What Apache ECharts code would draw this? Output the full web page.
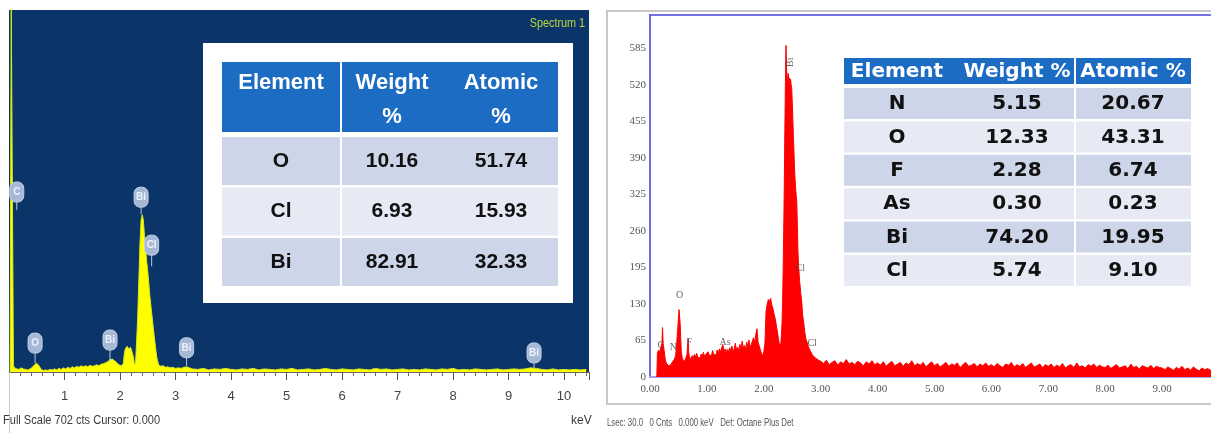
<!DOCTYPE html>
<html>
<head>
<meta charset="utf-8">
<script src="https://cdn.jsdelivr.net/npm/echarts@6/dist/echarts.min.js"></script>
<style>
  html, body { margin: 0; padding: 0; background: #ffffff; }
  #chart { width: 1211px; height: 433px; }
</style>
</head>
<body>
<div id="chart"></div>
<script>
// ---------- Spectrum 1 (left panel): [energy keV, counts] ----------
const leftLowE = [
  [0.02, 0], [0.04, 720], [0.06, 720], [0.08, 12], [0.10, 8], [0.14, 6], [0.18, 5], [0.22, 8],
  [0.26, 6], [0.30, 5], [0.34, 4], [0.38, 6], [0.42, 9], [0.46, 14], [0.50, 17], [0.54, 12],
  [0.58, 5], [0.62, 3], [0.66, 4], [0.70, 3], [0.74, 5], [0.78, 4], [0.82, 6], [0.86, 4],
  [0.90, 7], [0.94, 5], [0.98, 8], [1.02, 6], [1.06, 9], [1.10, 7], [1.14, 10], [1.18, 8],
  [1.22, 11], [1.26, 9], [1.30, 12], [1.34, 10], [1.38, 12], [1.42, 10], [1.46, 13], [1.50, 11],
  [1.54, 12], [1.58, 14], [1.62, 12], [1.66, 15], [1.70, 16], [1.74, 18], [1.78, 20], [1.82, 24],
  [1.86, 25], [1.90, 22], [1.94, 18], [1.98, 14], [2.02, 12], [2.06, 16]
];
const leftPeakE = [
  [2.08, 38], [2.10, 46], [2.13, 50], [2.16, 44], [2.19, 48], [2.22, 47], [2.24, 30], [2.26, 14],
  [2.28, 18], [2.30, 60], [2.32, 110], [2.34, 180], [2.36, 250], [2.38, 295], [2.40, 305],
  [2.42, 295], [2.44, 265], [2.46, 240], [2.48, 215], [2.50, 195], [2.52, 170], [2.54, 145],
  [2.56, 125], [2.58, 105], [2.60, 85], [2.62, 66], [2.64, 48], [2.66, 30], [2.68, 20], [2.70, 13],
  [2.74, 11], [2.78, 12], [2.82, 9], [2.86, 10], [2.90, 8], [2.95, 9], [3.00, 7], [3.05, 8],
  [3.10, 7], [3.15, 9], [3.20, 10], [3.25, 8]
];
const leftBackground = [
  [3.3, 6], [3.4, 5], [3.5, 7], [3.6, 4], [3.7, 6], [3.8, 5], [3.9, 7], [4.0, 5], [4.1, 4], [4.2, 6],
  [4.3, 5], [4.4, 7], [4.5, 4], [4.6, 6], [4.7, 5], [4.8, 4], [4.9, 6], [5.0, 5], [5.1, 7], [5.2, 4],
  [5.3, 5], [5.4, 6], [5.5, 4], [5.6, 5], [5.7, 7], [5.8, 5], [5.9, 4], [6.0, 6], [6.1, 5], [6.2, 4],
  [6.3, 6], [6.4, 5], [6.5, 4], [6.6, 7], [6.7, 5], [6.8, 6], [6.9, 4], [7.0, 5], [7.1, 6], [7.2, 4],
  [7.3, 5], [7.4, 4], [7.5, 6], [7.6, 5], [7.7, 4], [7.8, 6], [7.9, 5], [8.0, 7], [8.1, 4], [8.2, 5],
  [8.3, 4], [8.4, 6], [8.5, 5], [8.6, 4], [8.7, 5], [8.8, 6], [8.9, 4], [9.0, 5], [9.1, 6], [9.2, 5],
  [9.3, 6], [9.4, 8], [9.5, 7], [9.6, 5], [9.7, 4], [9.8, 6], [9.9, 4], [10.0, 5], [10.1, 4], [10.2, 5],
  [10.3, 4], [10.4, 5]
];
// Peak markers: element, energy, counts at bubble centre, counts at stem foot
const leftPeakLabels = [
  { el: 'C',  e: 0.14, top: 349, foot: 314 },
  { el: 'O',  e: 0.47, top: 56,  foot: 17 },
  { el: 'Bi', e: 1.82, top: 62,  foot: 20 },
  { el: 'Bi', e: 2.38, top: 339, foot: 306 },
  { el: 'Cl', e: 2.57, top: 246, foot: 205 },
  { el: 'Bi', e: 3.20, top: 47,  foot: 12 },
  { el: 'Bi', e: 9.46, top: 37,  foot: 8 }
];
const leftTicks = [1, 2, 3, 4, 5, 6, 7, 8, 9, 10];

// ---------- Right panel spectrum: [energy keV, counts] ----------
const rightLowE = [
  [0.12, 0], [0.13, 42], [0.15, 48], [0.17, 44], [0.19, 52], [0.21, 60], [0.22, 88], [0.23, 60],
  [0.25, 46], [0.27, 30], [0.29, 24], [0.31, 22], [0.33, 20], [0.35, 23], [0.37, 22], [0.39, 26],
  [0.41, 28], [0.43, 32], [0.45, 38], [0.47, 60], [0.49, 90], [0.51, 120], [0.53, 95], [0.55, 45],
  [0.57, 32], [0.59, 30], [0.61, 28], [0.63, 34], [0.65, 40], [0.67, 68], [0.68, 45], [0.70, 30],
  [0.72, 34], [0.74, 38], [0.76, 33], [0.78, 40], [0.80, 36], [0.82, 42], [0.84, 35], [0.86, 38],
  [0.88, 34], [0.90, 41], [0.92, 37], [0.94, 44], [0.96, 36], [0.98, 40], [1.00, 38], [1.02, 45],
  [1.04, 39], [1.06, 42], [1.08, 38], [1.10, 47], [1.12, 40], [1.14, 43], [1.16, 39], [1.18, 48],
  [1.20, 42], [1.22, 50], [1.24, 44], [1.26, 52], [1.28, 58], [1.30, 46], [1.32, 50], [1.34, 44],
  [1.36, 49], [1.38, 45], [1.40, 52], [1.42, 47], [1.44, 55], [1.46, 46], [1.48, 50], [1.50, 60],
  [1.52, 48], [1.54, 53], [1.56, 47], [1.58, 58], [1.60, 50], [1.62, 64], [1.64, 52], [1.66, 56],
  [1.68, 49], [1.70, 62], [1.72, 53], [1.74, 66], [1.76, 52], [1.78, 58], [1.80, 55], [1.82, 70],
  [1.84, 60], [1.86, 76], [1.88, 86], [1.90, 62], [1.92, 55], [1.94, 48], [1.96, 42], [1.98, 38],
  [2.00, 45]
];
const rightPeakE = [
  [2.02, 60], [2.04, 118], [2.06, 130], [2.08, 138], [2.10, 134], [2.12, 140], [2.14, 128],
  [2.16, 122], [2.18, 112], [2.20, 104], [2.22, 92], [2.24, 80], [2.26, 66], [2.28, 55],
  [2.30, 60], [2.31, 75], [2.32, 95], [2.33, 130], [2.34, 190], [2.35, 260], [2.36, 340],
  [2.37, 440], [2.38, 525], [2.39, 590], [2.40, 548], [2.41, 535], [2.42, 530], [2.43, 540],
  [2.44, 528], [2.45, 532], [2.46, 524], [2.47, 530], [2.48, 520], [2.49, 515], [2.50, 490],
  [2.51, 460], [2.52, 430], [2.53, 400], [2.54, 372], [2.55, 350], [2.56, 335], [2.57, 322],
  [2.58, 310], [2.59, 270], [2.60, 225], [2.61, 200], [2.62, 185], [2.63, 170], [2.64, 160],
  [2.65, 148], [2.66, 140], [2.67, 130], [2.68, 112], [2.70, 98], [2.72, 80], [2.74, 68],
  [2.76, 62], [2.78, 55], [2.80, 50], [2.82, 46], [2.85, 40], [2.88, 36], [2.92, 33],
  [2.96, 30], [3.00, 28]
];
const rightBackground = [
  [3.05, 24], [3.10, 30], [3.15, 22], [3.20, 26], [3.25, 29], [3.30, 21], [3.35, 27], [3.40, 24], [3.45, 31], [3.50, 23],
  [3.55, 26], [3.60, 22], [3.65, 28], [3.70, 25], [3.75, 20], [3.80, 27], [3.85, 23], [3.90, 29], [3.95, 22], [4.00, 25],
  [4.05, 21], [4.10, 27], [4.15, 19], [4.20, 24], [4.25, 28], [4.30, 20], [4.35, 23], [4.40, 26], [4.45, 19], [4.50, 25],
  [4.55, 22], [4.60, 29], [4.65, 20], [4.70, 24], [4.75, 21], [4.80, 26], [4.85, 18], [4.90, 23], [4.95, 27], [5.00, 20],
  [5.05, 24], [5.10, 18], [5.15, 22], [5.20, 26], [5.25, 19], [5.30, 23], [5.35, 21], [5.40, 25], [5.45, 17], [5.50, 22],
  [5.55, 26], [5.60, 19], [5.65, 21], [5.70, 24], [5.75, 18], [5.80, 23], [5.85, 20], [5.90, 25], [5.95, 19], [6.00, 22],
  [6.05, 18], [6.10, 24], [6.15, 20], [6.20, 17], [6.25, 23], [6.30, 21], [6.35, 26], [6.40, 18], [6.45, 22], [6.50, 19],
  [6.55, 24], [6.60, 17], [6.65, 21], [6.70, 25], [6.75, 18], [6.80, 20], [6.85, 23], [6.90, 17], [6.95, 22], [7.00, 19],
  [7.05, 23], [7.10, 17], [7.15, 21], [7.20, 18], [7.25, 24], [7.30, 16], [7.35, 20], [7.40, 22], [7.45, 17], [7.50, 25],
  [7.55, 18], [7.60, 20], [7.65, 16], [7.70, 22], [7.75, 19], [7.80, 23], [7.85, 17], [7.90, 21], [7.95, 18], [8.00, 17],
  [8.05, 21], [8.10, 15], [8.15, 19], [8.20, 22], [8.25, 16], [8.30, 18], [8.35, 20], [8.40, 15], [8.45, 23], [8.50, 17],
  [8.55, 19], [8.60, 14], [8.65, 20], [8.70, 18], [8.75, 16], [8.80, 21], [8.85, 15], [8.90, 19], [8.95, 17], [9.00, 16],
  [9.05, 13], [9.10, 18], [9.15, 15], [9.20, 12], [9.25, 17], [9.30, 14], [9.35, 19], [9.40, 13], [9.45, 16], [9.50, 12],
  [9.55, 18], [9.60, 14], [9.65, 11], [9.70, 16], [9.75, 13], [9.80, 15], [9.85, 12], [9.90, 17], [9.95, 14], [10.00, 13]
];
// Peak identification text: element, energy, counts at text position
const rightPeakLabels = [
  { el: 'C',  e: 0.19, c: 57 },
  { el: 'N',  e: 0.41, c: 52 },
  { el: 'O',  e: 0.52, c: 145 },
  { el: 'F',  e: 0.69, c: 62 },
  { el: 'As', e: 1.32, c: 62 },
  { el: 'Bi', e: 2.46, c: 560, rotate: 90 },
  { el: 'Cl', e: 2.64, c: 194 },
  { el: 'Cl', e: 2.85, c: 60 }
];

// ---------- Composition tables ----------
const leftTableHeader = ['Element', 'Weight\n%', 'Atomic\n%'];
const leftTableRows = [
  ['O', '10.16', '51.74'],
  ['Cl', '6.93', '15.93'],
  ['Bi', '82.91', '32.33']
];
const rightTableHeader = ['Element', 'Weight %', 'Atomic %'];
const rightTableRows = [
  ['N', '5.15', '20.67'],
  ['O', '12.33', '43.31'],
  ['F', '2.28', '6.74'],
  ['As', '0.30', '0.23'],
  ['Bi', '74.20', '19.95'],
  ['Cl', '5.74', '9.10']
];

// ---------- drawing ----------
const NAVY = '#0B3569';
const HEAD_BLUE = '#1C6CC4';
const ROW_DARK = '#CDD5E9';
const ROW_LIGHT = '#E7EAF4';

const graphics = [];
function rect(x, y, w, h, fill, z) {
  graphics.push({ type: 'rect', z: z || 100, shape: { x: x, y: y, width: w, height: h }, style: { fill: fill } });
}
function text(x, y, str, font, fill, opts) {
  opts = opts || {};
  graphics.push({
    type: 'text', z: 110, x: x, y: y, scaleX: opts.scaleX || 1,
    style: { text: str, font: font, fill: fill, align: opts.align || 'center',
             verticalAlign: opts.vAlign || 'middle', lineHeight: opts.lineHeight }
  });
}

// left table inside its white card
rect(203, 43, 370, 260, '#ffffff', 99);
rect(222, 62, 336, 70, HEAD_BLUE);
const leftCenters = [281, 392, 501];
text(leftCenters[0], 83, leftTableHeader[0], 'bold 22px "Liberation Sans", Arial, sans-serif', '#ffffff');
text(leftCenters[1], 100, leftTableHeader[1], 'bold 22px "Liberation Sans", Arial, sans-serif', '#ffffff', { lineHeight: 34 });
text(leftCenters[2], 100, leftTableHeader[2], 'bold 22px "Liberation Sans", Arial, sans-serif', '#ffffff', { lineHeight: 34 });
leftTableRows.forEach(function (row, i) {
  const top = 137 + i * 50.5;
  rect(222, top, 336, 48, i % 2 === 0 ? ROW_DARK : ROW_LIGHT);
  row.forEach(function (cell, j) {
    text(leftCenters[j], top + 24, cell, 'bold 21px "Liberation Sans", Arial, sans-serif', '#111111');
  });
});
rect(340, 62, 2, 226, '#ffffff', 105);

// right table
rect(844, 58, 347, 26, HEAD_BLUE);
const rightCenters = [897, 1017, 1133];
rightTableHeader.forEach(function (h, j) {
  text(rightCenters[j], 72, h, 'bold 20px "DejaVu Sans", sans-serif', '#ffffff');
});
rightTableRows.forEach(function (row, i) {
  const top = 88 + i * 33.4;
  rect(844, top, 347, 31, i % 2 === 0 ? ROW_DARK : ROW_LIGHT);
  row.forEach(function (cell, j) {
    text(rightCenters[j], top + 16, cell, 'bold 20px "DejaVu Sans", sans-serif', '#111111');
  });
});
rect(1074, 58, 2, 229, '#ffffff', 105);

// panel captions
text(585, 24, 'Spectrum 1', '12px "Liberation Sans", Arial, sans-serif', '#BCD640', { align: 'right', scaleX: 0.9 });
text(3, 421, 'Full Scale 702 cts Cursor: 0.000', '12px "Liberation Sans", Arial, sans-serif', '#3a3a3a', { align: 'left', scaleX: 0.92 });
text(571, 421, 'keV', '12px "Liberation Sans", Arial, sans-serif', '#3a3a3a', { align: 'left' });
text(607, 423, 'Lsec: 30.0   0 Cnts   0.000 keV   Det: Octane Plus Det', '10px "Liberation Sans", Arial, sans-serif', '#555555', { align: 'left', scaleX: 0.78 });

// frames
graphics.push({ type: 'rect', z: 1, shape: { x: 607, y: 11, width: 620, height: 393 },
  style: { fill: 'none', stroke: '#C8C8C8', lineWidth: 2 } });
graphics.push({ type: 'line', z: 1, shape: { x1: 9.5, y1: 372, x2: 9.5, y2: 433 },
  style: { stroke: '#C9C9C9', lineWidth: 1 } });

const chart = echarts.init(document.getElementById('chart'), null, { renderer: 'canvas', width: 1211, height: 433 });

chart.setOption({
  animation: false,
  backgroundColor: '#ffffff',
  grid: [
    { left: 9, top: 10, width: 580, height: 362, show: true, backgroundColor: NAVY, borderWidth: 0,
      containLabel: false, outerBoundsMode: 'none' },
    { left: 650, top: 15, width: 569, height: 362, show: true, backgroundColor: '#ffffff',
      borderColor: '#7272E2', borderWidth: 2, containLabel: false, outerBoundsMode: 'none' }
  ],
  xAxis: [
    { gridIndex: 0, type: 'value', min: 0, max: 10.45, interval: 1,
      axisLine: { show: true, onZero: false, lineStyle: { color: '#6a6a6a', width: 1 } },
      axisTick: { show: true, length: 8, lineStyle: { color: '#555' } },
      minorTick: { show: true, splitNumber: 5, length: 4, lineStyle: { color: '#666' } },
      splitLine: { show: false },
      axisLabel: { color: '#444', fontSize: 13, fontFamily: '"Liberation Sans", Arial, sans-serif', margin: 18,
        formatter: function (v) { return leftTicks.indexOf(v) >= 0 ? String(v) : ''; } } },
    { gridIndex: 1, type: 'value', min: 0, max: 10, interval: 1,
      axisLine: { show: true, onZero: false, lineStyle: { color: '#A3A3EE', width: 2 } },
      axisTick: { show: false },
      splitLine: { show: false },
      axisLabel: { color: '#555', fontSize: 11, fontFamily: '"Liberation Serif", serif', margin: 7,
        formatter: function (v) { return v < 10 ? v.toFixed(2) : ''; } } }
  ],
  yAxis: [
    { gridIndex: 0, type: 'value', min: 0, max: 702, show: false, splitLine: { show: false } },
    { gridIndex: 1, type: 'value', min: 0, max: 644, interval: 65,
      axisLine: { show: true, lineStyle: { color: '#6A6AE2', width: 2 } },
      axisTick: { show: false },
      splitLine: { show: false },
      axisLabel: { color: '#555', fontSize: 11, fontFamily: '"Liberation Serif", serif', margin: 4,
        formatter: function (v) { return v % 65 === 0 ? String(v) : ''; } } }
  ],
  series: [
    { type: 'line', xAxisIndex: 0, yAxisIndex: 0, symbol: 'none', z: 3,
      data: leftLowE.concat(leftPeakE, leftBackground),
      lineStyle: { color: '#D6EA1A', width: 1 },
      areaStyle: { color: '#FFFF00', opacity: 1 } },
    { type: 'custom', xAxisIndex: 0, yAxisIndex: 0, z: 5, clip: false,
      data: leftPeakLabels.map(function (p) { return [p.e, p.top, p.foot]; }),
      renderItem: function (params, api) {
        const c = api.coord([api.value(0), api.value(1)]);
        const f = api.coord([api.value(0), api.value(2)]);
        const label = leftPeakLabels[params.dataIndex].el;
        return { type: 'group', children: [
          { type: 'line', shape: { x1: c[0], y1: c[1], x2: f[0], y2: f[1] },
            style: { stroke: '#B7C6DF', lineWidth: 1 } },
          { type: 'rect', shape: { x: c[0] - 7, y: c[1] - 10, width: 14, height: 20, r: 6 },
            style: { fill: '#A5B8D6', stroke: '#C5D2E8', lineWidth: 1 } },
          { type: 'text', x: c[0], y: c[1],
            style: { text: label, fill: '#EEF2FA', font: 'bold 10px "Liberation Sans", Arial, sans-serif',
                     align: 'center', verticalAlign: 'middle' } }
        ] };
      } },
    { type: 'line', xAxisIndex: 1, yAxisIndex: 1, symbol: 'none', z: 3,
      data: rightLowE.concat(rightPeakE, rightBackground),
      lineStyle: { color: '#FF0000', width: 1 },
      areaStyle: { color: '#FF0000', opacity: 1 } },
    { type: 'scatter', xAxisIndex: 1, yAxisIndex: 1, z: 6, symbolSize: 1,
      itemStyle: { color: 'rgba(0,0,0,0)' },
      data: rightPeakLabels.map(function (p) {
        return { name: p.el, value: [p.e, p.c],
          label: { rotate: p.rotate || 0 } };
      }),
      label: { show: true, position: 'inside', formatter: '{b}', color: '#444',
        fontSize: 10, fontFamily: '"Liberation Serif", serif' } }
  ],
  graphic: graphics
});
</script>
</body>
</html>
